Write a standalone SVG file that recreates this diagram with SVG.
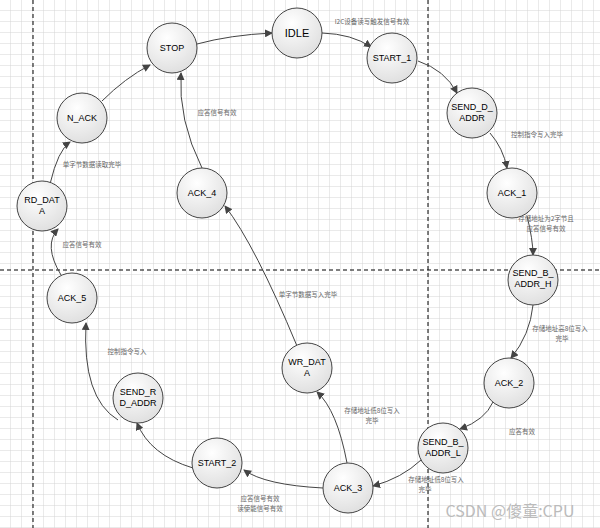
<svg xmlns="http://www.w3.org/2000/svg" width="600" height="528" viewBox="0 0 600 528">
<defs>
<pattern id="g" width="11" height="11" patternUnits="userSpaceOnUse"><path d="M11 0V11H0" fill="none" stroke="#d4d4d4" stroke-width="1"/></pattern>
<radialGradient id="ng" cx="0.4" cy="0.3" r="0.8"><stop offset="0" stop-color="#ffffff"/><stop offset="1" stop-color="#dcdcdc"/></radialGradient>
<marker id="a" markerWidth="8" markerHeight="8" refX="7" refY="4" orient="auto" markerUnits="userSpaceOnUse"><path d="M0 0L8 4L0 8z" fill="#444"/></marker>
<style>
.n circle{fill:url(#ng);stroke:#444;stroke-width:1}
.n text{font-family:"Liberation Sans",Arial,sans-serif;font-size:9px;fill:#000;text-anchor:middle}
.e path{fill:none;stroke:#444;stroke-width:1;marker-end:url(#a)}
.l{font-family:"Noto Sans CJK SC",sans-serif;font-size:6.5px;fill:#666;text-anchor:middle}
</style>
</defs>
<rect width="600" height="528" fill="#fff"/>
<rect width="600" height="528" fill="url(#g)"/>
<g stroke="#000" stroke-width="1" stroke-dasharray="4,3">
<line x1="33" y1="0" x2="33" y2="528"/><line x1="428" y1="0" x2="428" y2="528"/><line x1="0" y1="270" x2="600" y2="270"/>
</g>
<g class="e">
<path d="M322 33Q352 34 371 47"/>
<path d="M418 61Q445 70 457 93"/>
<path d="M490 133Q503 148 507 168"/>
<path d="M527 216Q533 240 533 255"/>
<path d="M533 305Q530 335 511 358"/>
<path d="M493 402Q485 420 460 429"/>
<path d="M421 460Q402 478 373 486"/>
<path d="M347 463Q337 410 317 392"/>
<path d="M323 488Q265 485 244 470"/>
<path d="M193 468Q150 455 137 423"/>
<path d="M118 420Q82 398 86 323"/>
<path d="M61 275Q43 245 58 229"/>
<path d="M50 184Q58 150 70 142"/>
<path d="M102 101Q125 78 150 65"/>
<path d="M297 346Q255 245 225 206"/>
<path d="M202 168Q178 120 181 73"/>
<path d="M197 44Q230 35 272 33"/>
</g>
<g class="l">
<text x="372" y="24">I2C设备读写触发信号有效</text>
<text x="537" y="137">控制指令写入完毕</text>
<text x="546" y="221">存储地址为2字节且</text><text x="546" y="231">应答信号有效</text>
<text x="560" y="331">存储地址高8位写入</text><text x="562" y="341">完毕</text>
<text x="522" y="434">应答有效</text>
<text x="436" y="482">存储地址低8位写入</text><text x="425" y="492">完毕</text>
<text x="372" y="413">存储地址低8位写入</text><text x="372" y="423">完毕</text>
<text x="260" y="501">应答信号有效</text><text x="260" y="511">读使能信号有效</text>
<text x="308" y="297">单字节数据写入完毕</text>
<text x="127" y="354">控制指令写入</text>
<text x="82" y="247">应答信号有效</text>
<text x="92" y="167">单字节数据读取完毕</text>
<text x="217" y="115">应答信号有效</text>
</g>
<g class="n" id="IDLE"><circle cx="297" cy="33" r="25"/><text x="297" y="37" style="font-size:11px">IDLE</text></g>
<g class="n" id="START_1"><circle cx="392" cy="58" r="25"/><text x="392" y="61">START_1</text></g>
<g class="n" id="SEND_D_ADDR"><circle cx="472" cy="113" r="25"/><text x="472" y="110">SEND_D_</text><text x="472" y="121">ADDR</text></g>
<g class="n" id="ACK_1"><circle cx="512" cy="193" r="25"/><text x="512" y="196">ACK_1</text></g>
<g class="n" id="SEND_B_ADDR_H"><circle cx="533" cy="280" r="25"/><text x="533" y="276">SEND_B_</text><text x="533" y="287">ADDR_H</text></g>
<g class="n" id="ACK_2"><circle cx="509" cy="383" r="25"/><text x="509" y="386">ACK_2</text></g>
<g class="n" id="SEND_B_ADDR_L"><circle cx="443" cy="448" r="25"/><text x="443" y="445">SEND_B_</text><text x="443" y="456">ADDR_L</text></g>
<g class="n" id="ACK_3"><circle cx="348" cy="488" r="25"/><text x="348" y="491">ACK_3</text></g>
<g class="n" id="START_2"><circle cx="217" cy="463" r="25"/><text x="217" y="466">START_2</text></g>
<g class="n" id="SEND_RD_ADDR"><circle cx="138" cy="398" r="25"/><text x="138" y="395">SEND_R</text><text x="138" y="406">D_ADDR</text></g>
<g class="n" id="ACK_5"><circle cx="72" cy="298" r="25"/><text x="72" y="301">ACK_5</text></g>
<g class="n" id="RD_DATA"><circle cx="42" cy="206" r="25"/><text x="42" y="203">RD_DAT</text><text x="42" y="214">A</text></g>
<g class="n" id="N_ACK"><circle cx="82" cy="118" r="25"/><text x="82" y="121">N_ACK</text></g>
<g class="n" id="STOP"><circle cx="172" cy="48" r="25"/><text x="172" y="51">STOP</text></g>
<g class="n" id="ACK_4"><circle cx="202" cy="193" r="25"/><text x="202" y="196">ACK_4</text></g>
<g class="n" id="WR_DATA"><circle cx="307" cy="368" r="25"/><text x="307" y="365">WR_DAT</text><text x="307" y="376">A</text></g>
<text x="510" y="517" style="font-family:'Noto Sans CJK SC',sans-serif;font-size:16px;fill:#bbb;text-anchor:middle">CSDN @傻童:CPU</text>
</svg>
